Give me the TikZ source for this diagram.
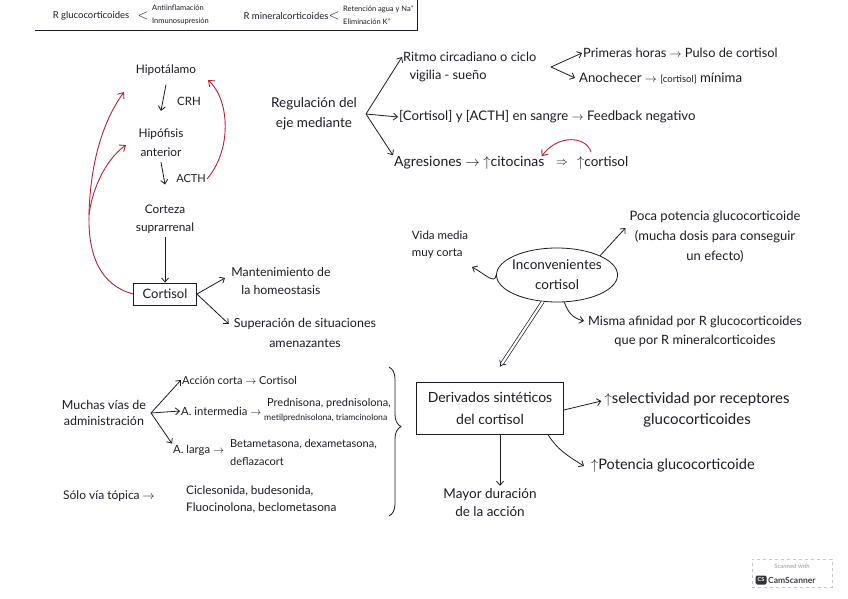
\documentclass[tikz,border=0pt]{standalone}
\usepackage{fontspec}
\setmainfont{Lato}
\usetikzlibrary{arrows.meta,decorations.pathreplacing,shapes.geometric}
\definecolor{ink}{RGB}{28,28,38}
\definecolor{handred}{RGB}{185,35,50}
\begin{document}
\begin{tikzpicture}[x=1pt,y=-1pt,
  every node/.style={font=\fontsize{12}{19}\selectfont, text=ink, inner sep=1pt, align=center},
  fs/.style 2 args={font=\fontsize{#1}{#2}\selectfont},
  arr/.style={draw=ink, line width=0.8pt, -{Straight Barb[length=4pt,width=7pt]}},
  redline/.style={draw=handred, line width=0.9pt},
  redarr/.style={redline, -{Straight Barb[length=5pt,width=8pt]}},
  hdr/.style={font=\fontsize{9.5}{11}\selectfont},
  tiny/.style={font=\fontsize{7.5}{13}\selectfont, align=left},
  boxed/.style={draw=ink, line width=0.8pt, rectangle}
]
\useasboundingbox (0,0) rectangle (848,599);
\fill[white] (0,0) rectangle (848,599);

% header
\node[hdr] (rglu) at (91,16) {R glucocorticoides};
\node[font=\fontsize{14}{14}\selectfont, inner sep=0pt] (lt1) at (143,16) {$<$};
\node[tiny, anchor=west] (glueff) at (151,15) {Antiinflamación\\Inmunosupresión};
\node[hdr] (rmin) at (286,16) {R mineralcorticoides};
\node[font=\fontsize{14}{14}\selectfont, inner sep=0pt] (lt2) at (334,16) {$<$};
\node[tiny, anchor=west] (mineff) at (342,15) {Retención agua y Na\textsuperscript{+}\\Eliminación K\textsuperscript{+}};
\draw[ink, line width=0.8pt] (35,30) -- (417,30) -- (417,0);

% axis
\node[fs={11.8}{19}] (hipot) at (166,70) {Hipotálamo};
\node[fs={11.8}{19}] (hipof) at (161,143) {Hipófisis\\anterior};
\node[fs={11.8}{18}] (corteza) at (165,219) {Corteza\\suprarrenal};
\node[boxed, fs={13}{15}, minimum width=63pt, minimum height=22pt] (cort) at (165,294) {Cortisol};
\node[fs={11.5}{12}] (crh) at (189,101) {CRH};
\node[fs={11}{12}] (acth) at (191,179) {ACTH};
\draw[arr] ([yshift=-8pt]hipot.south) -- ([yshift=17pt]hipof.north);
\draw[arr] ([yshift=-4pt]hipof.south) -- ([yshift=19pt]corteza.north);
\draw[arr] ([yshift=-3pt]corteza.south) -- (cort.north);

% feedback (red)
\coordinate (split) at (89,215);
\draw[redarr] (cort.west) .. controls (100,285) and (88,255) .. (split) .. controls (90,170) and (100,125) .. (124,92);
\draw[redarr] (split) .. controls (92,190) and (105,160) .. (126,145);
\draw[redarr] (acth.east) .. controls (232,150) and (230,100) .. (208,80);

% cortisol effects
\node[fs={12.3}{18}] (mant) at (281,281) {Mantenimiento de\\la homeostasis};
\node[fs={12.5}{20}] (super) at (305,333) {Superación de situaciones\\amenazantes};
\draw[arr] (cort.east) -- (225,278);
\draw[arr] (cort.east) -- ([yshift=9pt,xshift=-4pt]super.west);

% regulation
\node[fs={13.5}{20}] (reg) at (314,114) {Regulación del\\eje mediante};
\coordinate (regfork) at (366,114);
\node[fs={12.8}{15}, anchor=west] (rit1) at (402,57) {Ritmo circadiano o ciclo};
\node[fs={12.8}{15}] (rit2) at (448,76) {vigilia - sueño};
\coordinate (ritfork) at (551,67);
\node[fs={12.8}{15}, anchor=west] (prim) at (582,53) {Primeras horas $\rightarrow$ Pulso de cortisol};
\node[fs={13.2}{15}, anchor=west] (anoch) at (578,78) {Anochecer $\rightarrow$ {\fontsize{9.5}{10}\selectfont[cortisol]} mínima};
\node[fs={13.2}{15}, anchor=west] (sangre) at (398,117) {[Cortisol] y [ACTH] en sangre $\rightarrow$ Feedback negativo};
\node[fs={14}{15}, anchor=west] (agr) at (393,163) {Agresiones $\rightarrow$ $\uparrow$citocinas};
\node[fs={13}{15}] (imp) at (562,163) {$\Rightarrow$};
\node[fs={13.5}{15}, anchor=west] (cortup) at (576,163) {$\uparrow$cortisol};
\coordinate (redstart) at (591,152);
\draw[arr] (regfork) -- (rit1.west);
\draw[arr] (regfork) -- (sangre.west);
\draw[arr] (regfork) -- (agr.north west);
\draw[arr] (ritfork) -- (prim.west);
\draw[arr] (ritfork) -- (575,78);
\draw[redarr] (redstart) .. controls (586,136) and (558,134) .. ([xshift=-4pt,yshift=-1pt]agr.north east);

% inconvenientes
\node[draw=ink, line width=0.8pt, ellipse, fs={13.5}{20}, minimum width=104pt, minimum height=54pt, inner sep=-2pt] (incon) at (557,275) {Inconvenientes\\cortisol};
\node[fs={11.5}{17}, align=left] (vida) at (440,245) {Vida media\\muy corta};
\node[fs={13}{20}] (poca) at (715,237) {Poca potencia glucocorticoide\\(mucha dosis para conseguir\\un efecto)};
\node[fs={12.8}{19}] (misma) at (695,331) {Misma afinidad por R glucocorticoides\\que por R mineralcorticoides};
\draw[arr] (incon.west) .. controls (495,285) and (485,274) .. (472,267);
\draw[arr] (incon.north east) -- ([yshift=9pt,xshift=-3pt]poca.west);
\draw[arr] (incon.-75) .. controls (568,312) and (572,318) .. ([yshift=10pt,xshift=-3pt]misma.west);

% derivados
\node[boxed, fs={14}{22}, minimum width=147pt, minimum height=52pt] (deriv) at (490,408) {Derivados sintéticos\\del cortisol};
\draw[ink, line width=0.7pt, double, double distance=2.2pt, -{Implies}] (incon.-118) -- ([xshift=10pt,yshift=15pt]deriv.north);
\node[fs={15}{21}] (selec) at (697,410) {$\uparrow$selectividad por receptores\\glucocorticoides};
\node[fs={14.5}{16}, anchor=west] (poten) at (590,466) {$\uparrow$Potencia glucocorticoide};
\node[fs={13.5}{18}] (mayor) at (490,503) {Mayor duración\\de la acción};
\draw[arr] ([yshift=-2pt]deriv.east) -- ([yshift=9pt,xshift=-2pt]selec.west);
\draw[arr] ([xshift=-16pt]deriv.south east) .. controls (556,448) and (566,455) .. ([xshift=-6pt]poten.west);
\draw[arr] ([xshift=10pt]deriv.south) -- ([xshift=10pt,yshift=2pt]mayor.north);

% brace
\draw[ink, line width=0.8pt, decorate, decoration={brace, amplitude=12pt, aspect=0.4}] (389,367) -- (389,516);

% administration
\node[fs={12.5}{16}] (muchas) at (104,413) {Muchas vías de\\administración};
\coordinate (mfork) at (151,413);
\node[fs={11}{13}, anchor=west] (accion) at (181,380) {Acción corta $\rightarrow$ Cortisol};
\node[fs={11.3}{13}, anchor=west] (inter) at (180,411) {A. intermedia $\rightarrow$};
\node[anchor=west, align=left, fs={11}{14}, inner sep=0pt] (pred) at (264,410) {\hspace*{3pt}Prednisona, prednisolona,\\\fontsize{8.6}{14}\selectfont metilprednisolona, triamcinolona};
\node[fs={11.3}{13}, anchor=west] (larga) at (172,450) {A. larga $\rightarrow$};
\node[fs={11}{18}, anchor=west, align=left] (beta) at (229,452) {Betametasona, dexametasona,\\deflazacort};
\node[fs={12}{14}, anchor=west] (solo) at (62,496) {Sólo vía tópica $\rightarrow$};
\node[fs={11.8}{17}, anchor=west, align=left] (cicle) at (185,499) {Ciclesonida, budesonida,\\Fluocinolona, beclometasona};
\draw[arr] (mfork) -- (accion.west);
\draw[arr] (mfork) -- (inter.west);
\draw[arr] (mfork) -- (larga.north west);

% watermark
\node[draw=gray!45, dashed, line width=0.5pt, minimum width=80pt, minimum height=28pt] (cs) at (792,573) {};
\node[font=\fontsize{6}{7}\selectfont, text=gray!80] (csline) at (792,566) {Scanned with};
\node[fill=ink!90, rounded corners=1.5pt, text=white, font=\bfseries\fontsize{5.5}{6}\selectfont, inner sep=1.2pt, minimum width=11pt, minimum height=9pt] (cslogo) at (761,580) {CS};
\node[anchor=west, font=\bfseries\fontsize{8.5}{9}\selectfont, text=ink!85] (csname) at (767,580) {CamScanner};
\end{tikzpicture}
\end{document}
